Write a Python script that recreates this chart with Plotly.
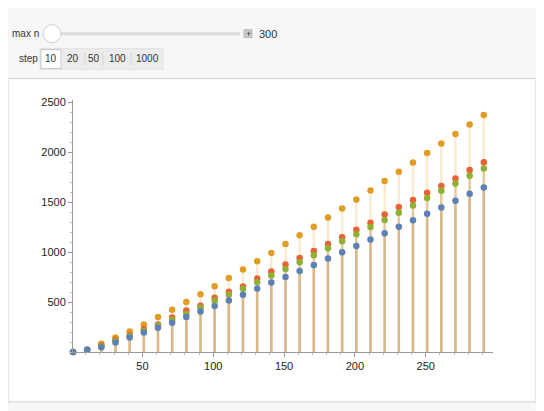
import plotly.graph_objects as go

n = list(range(1, 292, 10))
blue = [1, 23, 47, 96, 146, 196, 243, 293, 349, 406, 459, 515, 572, 635, 695, 751, 811, 871, 934, 997, 1061, 1124, 1187, 1253, 1317, 1383, 1446, 1513, 1582, 1646]
green = [1, 23, 56, 110, 158, 213, 263, 322, 379, 442, 512, 572, 632, 698, 765, 831, 898, 967, 1037, 1107, 1177, 1250, 1320, 1393, 1466, 1539, 1612, 1686, 1762, 1835]
red = [1, 23, 66, 123, 170, 229, 276, 346, 416, 462, 542, 602, 655, 735, 805, 874, 941, 1011, 1080, 1147, 1223, 1293, 1376, 1449, 1519, 1592, 1659, 1735, 1819, 1898]
orange = [1, 23, 83, 146, 206, 276, 349, 422, 499, 578, 658, 741, 824, 908, 991, 1080, 1167, 1253, 1346, 1436, 1526, 1616, 1709, 1802, 1895, 1991, 2084, 2181, 2274, 2370]

series = [(orange, "#e19c24", "rgba(240,190,100,0.3)"),
          (red, "#eb6235", "rgba(200,150,90,0.25)"),
          (green, "#8fb032", "rgba(200,170,90,0.25)"),
          (blue, "#5e81b5", "rgba(190,150,100,0.35)")]

fig = go.Figure()
for vals, col, stemcol in series:
    xs, ys = [], []
    for x, y in zip(n, vals):
        xs += [x, x, None]
        ys += [0, y, None]
    fig.add_trace(go.Scatter(x=xs, y=ys, mode="lines", line=dict(color=stemcol, width=2.5),
                             hoverinfo="skip", showlegend=False))
for vals, col, stemcol in series:
    fig.add_trace(go.Scatter(x=n, y=vals, mode="markers", marker=dict(color=col, size=6.5),
                             showlegend=False, cliponaxis=False))

OFF = 8  # page body margin
W, H = 544, 411
L, T = 73 - OFF, 99.5 - OFF
pw, ph = 420, 252.5
R, B = W - L - pw, H - T - ph
def px(x): return (x - OFF - L) / pw
def py(y): return (T + ph - (y - OFF)) / ph

shapes = [
    dict(type="rect", xref="paper", yref="paper", x0=px(8), x1=px(536), y0=py(402), y1=py(78),
         line=dict(color="#d0d0d0", width=1), fillcolor="white", layer="below"),
    dict(type="line", xref="paper", yref="paper", x0=px(44), x1=px(240), y0=py(33), y1=py(33),
         line=dict(color="#dcdcdc", width=3)),
    dict(type="circle", xref="paper", yref="paper", x0=px(43), x1=px(61), y0=py(42), y1=py(24),
         line=dict(color="#cfcfcf", width=1), fillcolor="white"),
    dict(type="rect", xref="paper", yref="paper", x0=px(244), x1=px(252), y0=py(37), y1=py(29),
         line=dict(color="#bbbbbb", width=1), fillcolor="#cccccc"),
    dict(type="rect", xref="paper", yref="paper", x0=px(40), x1=px(163), y0=py(69), y1=py(48),
         line=dict(color="#e3e3e3", width=1), fillcolor="#ececec"),
    dict(type="rect", xref="paper", yref="paper", x0=px(41), x1=px(61), y0=py(68), y1=py(49),
         line=dict(color="#c8c8c8", width=1), fillcolor="white"),
]
for sx in [85, 103, 131]:
    shapes.append(dict(type="line", xref="paper", yref="paper", x0=px(sx), x1=px(sx),
                       y0=py(65), y1=py(52), line=dict(color="#d5d5d5", width=1)))

ann = []
def txt(x, y, t, size=10, anchor="left"):
    ann.append(dict(xref="paper", yref="paper", x=px(x), y=py(y), text=t, showarrow=False,
                    xanchor=anchor, yanchor="middle", font=dict(size=size, color="#333")))
txt(10, 33, "max n")
txt(257, 33, "300", 11)
txt(17, 58, "step")
for t, cx in [("10", 51), ("20", 73), ("50", 94), ("100", 117), ("1000", 147)]:
    txt(cx, 58, t, 10, "center")
txt(248, 33, "+", 9, "center")

fig.update_layout(
    width=W, height=H, margin=dict(l=L, r=R, t=T, b=B),
    paper_bgcolor="#f7f7f7", plot_bgcolor="rgba(0,0,0,0)",
    font=dict(family="Liberation Sans, Arial", size=11, color="#222"),
    shapes=shapes, annotations=ann,
    xaxis=dict(range=[1, 297.5], showgrid=False, zeroline=False, showline=True, linecolor="#999",
               tickvals=[50, 100, 150, 200, 250], ticks="outside", ticklen=4, tickcolor="#999",
               minor=dict(tickvals=list(range(10, 300, 10)), ticks="outside", ticklen=2, tickcolor="#bbb")),
    yaxis=dict(range=[0, 2520], showgrid=False, zeroline=False, showline=True, linecolor="#999",
               tickvals=[500, 1000, 1500, 2000, 2500], ticks="outside", ticklen=4, tickcolor="#999",
               minor=dict(dtick=100, ticks="outside", ticklen=2, tickcolor="#bbb")),
)
fig.write_html("out.html")
